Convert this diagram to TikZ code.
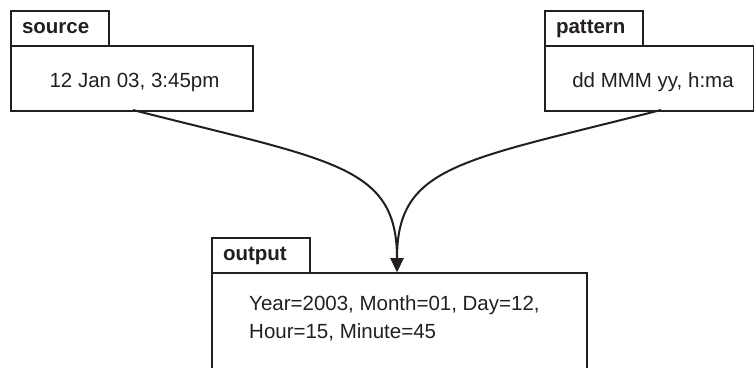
\documentclass[tikz,border=0pt]{standalone}
\usepackage{fontspec}
\setmainfont{Liberation Sans}
\usetikzlibrary{arrows.meta}
\definecolor{ink}{HTML}{231F20}
\tikzset{
  % frame of a tab or of a box
  boxframe/.style={draw=ink, line width=2pt, rectangle, inner sep=0pt, anchor=north west},
  % the small titled tab above a box
  tab/.style={boxframe, minimum width=98pt, minimum height=35pt, text width=76pt,
    inner xsep=11pt, align=left, text height=15pt, text depth=5pt,
    text=ink, font=\bfseries\fontsize{20.5}{24}\selectfont},
  % text inside a box
  field/.style={text=ink, font=\fontsize{20.5}{28}\selectfont, inner sep=0pt},
  % curved arrow into the output box
  flow/.style={draw=ink, line width=2pt, -{Triangle[length=14pt,width=13pt]}},
}

\begin{document}
\begin{tikzpicture}[x=1pt,y=-1pt]
\useasboundingbox (0,0) rectangle (754,367);
\clip (0,0) rectangle (754,367);
% source
\node[tab] (srcTab) at (10,10) {source};
\node[boxframe, minimum width=242pt, minimum height=65pt] (srcBody) at (10,45) {};
\node[field, anchor=base] (srcText) at (134.5,87) {12 Jan 03, 3:45pm};
% pattern
\node[tab] (patTab) at (544,10) {pattern};
\node[boxframe, minimum width=209pt, minimum height=65pt] (patBody) at (544,45) {};
\node[field, anchor=base] (patText) at (653,87) {dd MMM yy, h:ma};
% output
\node[tab] (outTab) at (211,237) {output};
\node[boxframe, minimum width=375pt, minimum height=120pt] (outBody) at (211,272) {};
\node[field, align=left, anchor=north west] (outText) at (249,295)
  {Year=2003, Month=01, Day=12,\\Hour=15, Minute=45};
% connectors
\coordinate (srcOut) at (133,110);
\coordinate (patOut) at (661,110);
\coordinate (outIn) at (397,272);
\draw[flow] (srcOut) .. controls (333,161) and (397,165) .. (outIn);
\draw[flow] (patOut) .. controls (461,161) and (397,165) .. (outIn);
\end{tikzpicture}
\end{document}
